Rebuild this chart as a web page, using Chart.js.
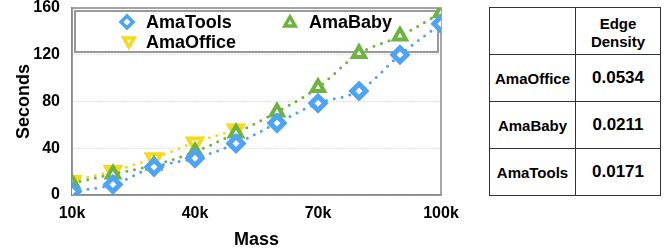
<!DOCTYPE html>
<html>
<head>
<meta charset="utf-8">
<script src="https://cdn.jsdelivr.net/npm/chart.js@4.4.0/dist/chart.umd.min.js"></script>
<style>
  body { margin: 0; background: #fff; font-family: "Liberation Sans", Arial, sans-serif; }
  #wrap { position: relative; width: 664px; height: 249px; overflow: hidden; }
  #c { position: absolute; left: 0; top: -4px; }
  table { position: absolute; left: 489px; top: 7px; border-collapse: collapse; }
  td { border: 1.5px solid #333; height: 46px; padding: 0; text-align: center; font-weight: bold; color: #000; }
  td.name { width: 85px; font-size: 15px; }
  td.val { width: 84px; font-size: 17px; }
  td.head { font-size: 15px; line-height: 18px; padding-top: 3px; height: 43px; }
</style>
</head>
<body>
<div id="wrap">
  <canvas id="c" width="470" height="253"></canvas>
  <table id="tbl"></table>
</div>
<script>
// x positions (graph mass)
const mass = [10000, 20000, 30000, 40000, 50000, 60000, 70000, 80000, 90000, 100000];
const amaTools = [3, 9, 24, 31.5, 44, 61.5, 78.5, 89, 120, 146.5];
const amaBaby = [10, 18, 25.5, 37, 53, 71, 92, 121, 136, 156];
const amaOffice = [12, 20.5, 31.5, 45, 56];

const tableRows = ['AmaOffice', 'AmaBaby', 'AmaTools'];
const edgeDensity = ['0.0534', '0.0211', '0.0171'];

const BLUE = '#4da3f7';
const GREEN = '#6db33f';
const YELLOW = '#f8d81c';
const FONT = '"Liberation Sans", Arial, sans-serif';

// table on the right
const tbl = document.getElementById('tbl');
let html = '<tr><td class="name"></td><td class="val head">Edge<br>Density</td></tr>';
tableRows.forEach((n, i) => {
    html += '<tr><td class="name">' + n + '</td><td class="val">' + edgeDensity[i] + '</td></tr>';
});
tbl.innerHTML = html;

const pts = (ys) => ys.map((y, i) => ({ x: mass[i], y: y }));

function marker(ctx, style, x, y, r, color, lw) {
    ctx.save();
    ctx.beginPath();
    if (style === 'diamond') {
        ctx.moveTo(x, y - r); ctx.lineTo(x + r, y); ctx.lineTo(x, y + r); ctx.lineTo(x - r, y);
    } else if (style === 'up') {
        ctx.moveTo(x, y - r); ctx.lineTo(x + r * 0.866, y + r / 2); ctx.lineTo(x - r * 0.866, y + r / 2);
    } else {
        ctx.moveTo(x, y + r); ctx.lineTo(x + r * 0.866, y - r / 2); ctx.lineTo(x - r * 0.866, y - r / 2);
    }
    ctx.closePath();
    ctx.fillStyle = '#fff';
    ctx.fill();
    ctx.lineWidth = lw;
    ctx.strokeStyle = color;
    ctx.stroke();
    ctx.restore();
}

// frame + boxed legend, under the markers
const frameLegend = {
    id: 'frameLegend',
    beforeDatasetsDraw(chart) {
        const { ctx, chartArea: a } = chart;
        ctx.save();
        ctx.strokeStyle = '#8a8a8a';
        ctx.lineWidth = 1.5;
        ctx.strokeRect(a.left, a.top, a.right - a.left, a.bottom - a.top);

        const bx = a.left + 3, by = a.top + 3;
        ctx.fillStyle = '#fff';
        ctx.fillRect(bx, by, 363, 41);
        ctx.strokeStyle = '#9a9a9a';
        ctx.lineWidth = 2;
        ctx.strokeRect(bx, by, 363, 41);

        ctx.font = 'bold 18px ' + FONT;
        ctx.fillStyle = '#000';
        ctx.textBaseline = 'middle';
        marker(ctx, 'diamond', bx + 52, by + 11, 6, BLUE, 3.5);
        ctx.fillText('AmaTools', bx + 71, by + 12);
        marker(ctx, 'up', bx + 215, by + 12, 6, GREEN, 3.5);
        ctx.fillText('AmaBaby', bx + 234, by + 12);
        marker(ctx, 'down', bx + 54, by + 30, 6, YELLOW, 3.5);
        ctx.fillText('AmaOffice', bx + 71, by + 32);
        ctx.restore();
    }
};

const dotted = { borderWidth: 3, borderDash: [0, 8], borderCapStyle: 'round', tension: 0.35, pointBackgroundColor: '#fff' };

new Chart(document.getElementById('c'), {
    type: 'line',
    data: {
        datasets: [{
            label: 'AmaTools',
            data: pts(amaTools),
            borderColor: BLUE,
            pointBorderColor: BLUE,
            pointStyle: 'rectRot',
            pointRadius: 7,
            pointBorderWidth: 5,
            ...dotted
        }, {
            label: 'AmaBaby',
            data: pts(amaBaby),
            borderColor: GREEN,
            pointBorderColor: GREEN,
            pointStyle: 'triangle',
            pointRadius: 7,
            pointBorderWidth: 4,
            ...dotted
        }, {
            label: 'AmaOffice',
            data: pts(amaOffice),
            borderColor: YELLOW,
            pointBorderColor: YELLOW,
            pointStyle: 'triangle',
            pointRotation: 180,
            pointRadius: 8,
            pointBorderWidth: 4,
            ...dotted
        }]
    },
    options: {
        responsive: false,
        animation: false,
        devicePixelRatio: 1,
        layout: { padding: { top: 0, right: 29, left: 0, bottom: 0 } },
        plugins: { legend: { display: false }, tooltip: { enabled: false } },
        scales: {
            x: {
                type: 'linear',
                min: 10000,
                max: 100000,
                afterFit: (s) => { s.height = 54; },
                ticks: {
                    stepSize: 30000,
                    padding: 1,
                    color: '#000',
                    font: { family: FONT, size: 16, weight: 'bold' },
                    callback: (v) => (v / 1000) + 'k'
                },
                grid: { display: false },
                border: { color: '#8a8a8a', width: 1.5 },
                title: {
                    display: true,
                    text: 'Mass',
                    color: '#000',
                    padding: 0,
                    font: { family: FONT, size: 18, weight: 'bold', lineHeight: 1 }
                }
            },
            y: {
                min: 0,
                max: 160,
                afterFit: (s) => { s.width = 72; s.paddingTop = 3; s.paddingBottom = 0; },
                ticks: {
                    stepSize: 40,
                    padding: 12,
                    color: '#000',
                    font: { family: FONT, size: 16, weight: 'bold' }
                },
                grid: { color: '#c4c4c4', drawTicks: false },
                border: { color: '#8a8a8a', width: 1.5, dash: [1, 2] },
                title: {
                    display: true,
                    text: 'Seconds',
                    color: '#000',
                    padding: { top: 15, bottom: 0 },
                    font: { family: FONT, size: 18, weight: 'bold', lineHeight: 1 }
                }
            }
        }
    },
    plugins: [frameLegend]
});
</script>
</body>
</html>
